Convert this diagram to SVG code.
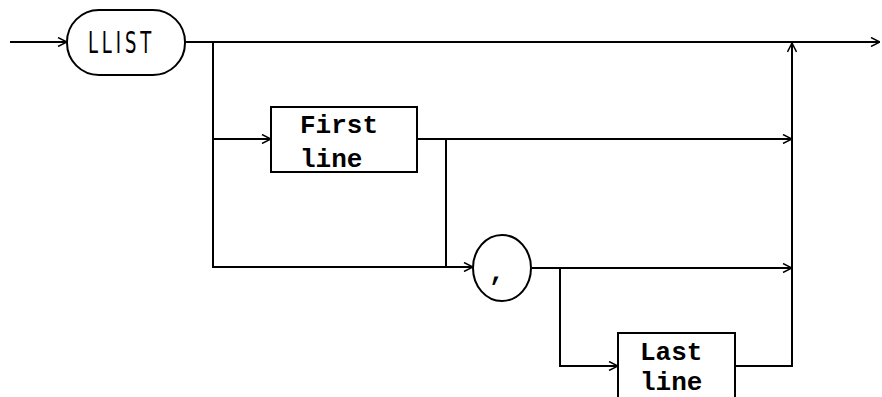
<svg xmlns="http://www.w3.org/2000/svg" width="882" height="397" viewBox="0 0 882 397">
<style>
.ln{stroke:#000;stroke-width:2;fill:none}
.box{stroke:#000;stroke-width:2;fill:#fff}
.mono{font-family:"Liberation Mono","Courier New",monospace;font-weight:bold;font-size:26px;fill:#000}
.kw{font-family:"DejaVu Sans Condensed","DejaVu Sans",sans-serif;font-size:31px;fill:#000}
</style>
<defs>
<marker id="arr" viewBox="0 0 10 10" refX="10" refY="5" markerWidth="10" markerHeight="10" markerUnits="userSpaceOnUse" orient="auto">
<path d="M1,0.5 L10,5 L1,9.5" fill="none" stroke="#000" stroke-width="1.5"/>
</marker>
</defs>
<rect width="882" height="397" fill="#fff"/>
<g id="connectors">
<path class="ln" d="M10,42 H67" marker-end="url(#arr)"/>
<path class="ln" d="M185,42 H880" marker-end="url(#arr)"/>
<path class="ln" d="M213,42 V267 H473" marker-end="url(#arr)"/>
<path class="ln" d="M213,139 H271" marker-end="url(#arr)"/>
<path class="ln" d="M417,139 H792" marker-end="url(#arr)"/>
<path class="ln" d="M446,139 V267"/>
<path class="ln" d="M532,268 H792" marker-end="url(#arr)"/>
<path class="ln" d="M560,268 V366 H618" marker-end="url(#arr)"/>
<path class="ln" d="M735,366 H792 V43" marker-end="url(#arr)"/>
</g>
<g id="llist">
<rect class="box" x="67" y="10" width="118" height="65" rx="32" ry="32"/>
<text class="kw" x="88" y="53" letter-spacing="6" textLength="67" lengthAdjust="spacingAndGlyphs">LLIST</text>
</g>
<g id="first-line">
<rect class="box" x="271" y="107" width="146" height="65"/>
<text class="mono" x="300" y="133">First</text>
<text class="mono" x="300" y="167">line</text>
</g>
<g id="comma">
<ellipse class="box" cx="502" cy="268" rx="29" ry="33"/>
<text class="mono" x="489" y="280" font-size="20">,</text>
</g>
<g id="last-line">
<rect class="box" x="618" y="333" width="117" height="70"/>
<text class="mono" x="640" y="360">Last</text>
<text class="mono" x="640" y="390">line</text>
</g>
</svg>
